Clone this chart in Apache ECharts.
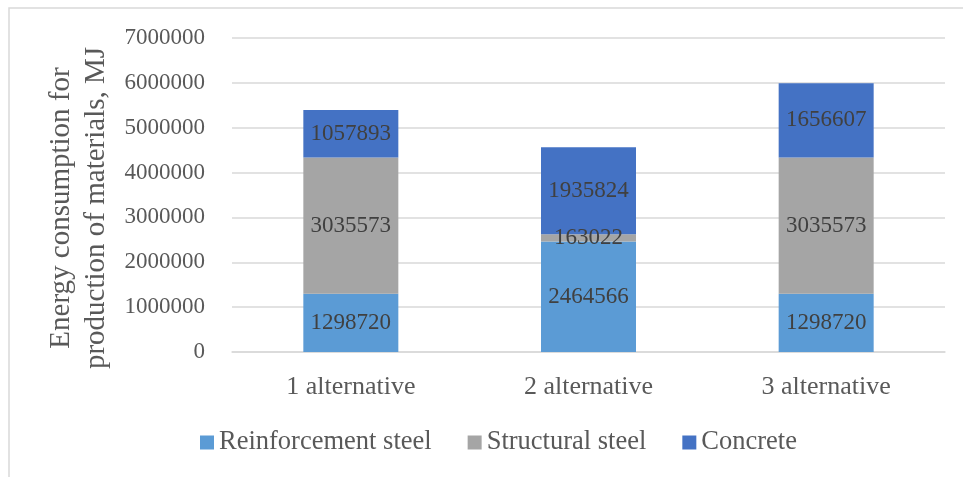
<!DOCTYPE html>
<html>
<head>
<meta charset="utf-8">
<script src="https://cdn.jsdelivr.net/npm/echarts@6/dist/echarts.min.js"></script>
<style>
  html, body { margin: 0; padding: 0; background: #fff; }
  #chart { width: 963px; height: 477px; }
</style>
</head>
<body>
<div id="chart"></div>
<script>
// Energy consumption for production of materials, per design alternative (MJ)
const categories = ['1 alternative', '2 alternative', '3 alternative'];
const reinforcementSteel = [1298720, 2464566, 1298720];
const structuralSteel = [3035573, 163022, 3035573];
const concrete = [1057893, 1935824, 1656607];
const seriesNames = ['Reinforcement steel', 'Structural steel', 'Concrete'];
const axisTitle = 'Energy consumption for\nproduction of materials, MJ';

const FONT = '"Liberation Serif", "DejaVu Serif", serif';
const colors = ['#5B9BD5', '#A5A5A5', '#4472C4'];

const chart = echarts.init(document.getElementById('chart'), null, { renderer: 'canvas' });

function barSeries(name, data, color) {
  return {
    name: name,
    type: 'bar',
    stack: 'total',
    data: data,
    barWidth: 95,
    itemStyle: { color: color },
    label: {
      show: true,
      position: 'inside',
      color: '#404040',
      fontFamily: FONT,
      fontSize: 23
    }
  };
}

chart.setOption({
  animation: false,
  color: colors,
  graphic: [{
    type: 'rect',
    shape: { x: 9, y: 8, width: 1000, height: 500 },
    style: { fill: 'none', stroke: '#D9D9D9', lineWidth: 1.5 },
    silent: true
  }],
  grid: { left: 232, right: 18, top: 38, bottom: 125 },
  legend: {
    data: seriesNames,
    bottom: 16,
    left: 195,
    itemWidth: 14,
    itemHeight: 14,
    itemGap: 36,
    icon: 'rect',
    textStyle: { color: '#595959', fontFamily: FONT, fontSize: 26.5 }
  },
  xAxis: {
    type: 'category',
    data: categories,
    axisLine: { show: true, lineStyle: { color: '#D9D9D9', width: 1.5 } },
    axisTick: { show: false },
    axisLabel: { color: '#595959', fontFamily: FONT, fontSize: 26, margin: 22 }
  },
  yAxis: {
    type: 'value',
    min: 0,
    max: 7000000,
    interval: 1000000,
    name: axisTitle,
    nameLocation: 'middle',
    nameGap: 110,
    nameRotate: 90,
    nameTextStyle: { color: '#595959', fontFamily: FONT, fontSize: 29, lineHeight: 35, padding: [0, 26, 0, 0] },
    axisLine: { show: false },
    axisTick: { show: false },
    splitLine: { lineStyle: { color: '#D9D9D9', width: 1.5 } },
    axisLabel: {
      color: '#595959', fontFamily: FONT, fontSize: 23, margin: 27,
      formatter: function (v) { return String(v); }
    }
  },
  series: [
    barSeries(seriesNames[0], reinforcementSteel, colors[0]),
    barSeries(seriesNames[1], structuralSteel, colors[1]),
    barSeries(seriesNames[2], concrete, colors[2])
  ]
});
</script>
</body>
</html>
